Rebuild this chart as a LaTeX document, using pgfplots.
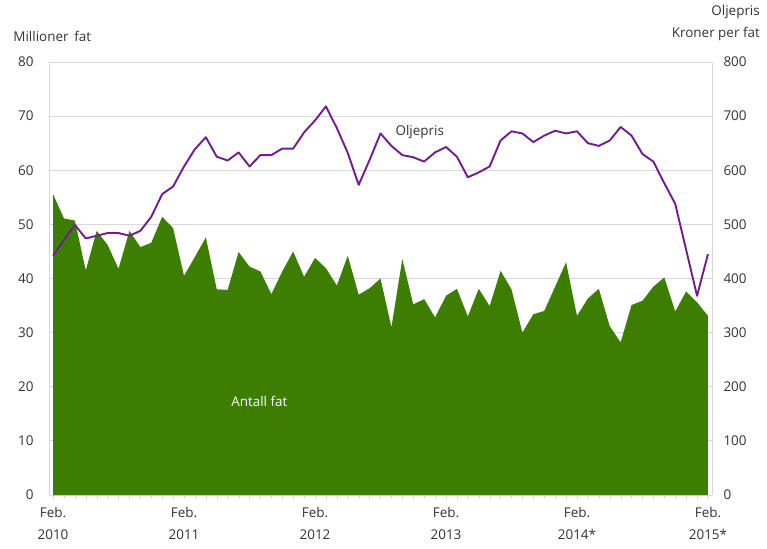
\documentclass[border=0pt]{standalone}
\usepackage{pgfplots}
\pgfplotsset{compat=1.18}
\usepackage{fontspec}
\setmainfont{Open Sans}
\definecolor{areagreen}{RGB}{60,126,2}
\definecolor{oilpurple}{RGB}{112,30,140}
\definecolor{gridgray}{RGB}{217,217,217}
\definecolor{txtgray}{RGB}{51,51,51}
\pgfplotstableread{
x v
0 55.6
1 51.1
2 50.7
3 41.5
4 48.8
5 46.2
6 41.8
7 48.8
8 45.8
9 46.6
10 51.4
11 49.3
12 40.5
13 44.0
14 47.6
15 38.0
16 37.9
17 44.9
18 42.2
19 41.3
20 37.1
21 41.3
22 45.0
23 40.3
24 43.8
25 41.9
26 38.7
27 44.2
28 37.0
29 38.2
30 40.0
31 31.0
32 43.6
33 35.2
34 36.2
35 32.8
36 36.8
37 38.1
38 33.0
39 38.1
40 34.9
41 41.4
42 38.0
43 30.0
44 33.4
45 34.0
46 38.5
47 43.0
48 33.1
49 36.3
50 38.1
51 31.2
52 28.2
53 35.1
54 35.9
55 38.5
56 40.2
57 33.9
58 37.6
59 35.6
60 33.1
}\fatdata
\pgfplotstableread{
x p
0 442
1 471
2 499
3 474
4 479
5 484
6 484
7 479
8 488
9 514
10 556
11 570
12 607
13 639
14 661
15 625
16 618
17 633
18 607
19 628
20 628
21 640
22 640
23 670
24 692
25 718
26 678
27 632
28 573
29 619
30 668
31 645
32 628
33 624
34 616
35 633
36 643
37 625
38 587
39 596
40 607
41 655
42 672
43 668
44 652
45 664
46 673
47 668
48 672
49 650
50 645
51 655
52 680
53 664
54 630
55 616
56 576
57 538
58 453
59 368
60 445
}\prisdata
\begin{document}
\begin{tikzpicture}[font=\fontsize{13.5}{22}\selectfont, text=txtgray]
\begin{axis}[
  scale only axis, width=663bp, height=433bp,
  xmin=-0.37, xmax=60.37, ymin=0, ymax=80,
  axis line style={gridgray},
  xtick={0,12,24,36,48,60},
  xticklabels={Feb.\\2010,Feb.\\2011,Feb.\\2012,Feb.\\2013,Feb.\\2014*,Feb.\\2015*},
  xticklabel style={align=center, text=txtgray, yshift=-5bp},
  minor xtick={0,...,60},
  tick align=outside,
  major tick length=4bp, minor tick length=4bp,
  x tick style={gridgray},
  ytick={0,10,...,80},
  y tick style={draw=none},
  yticklabel style={text=txtgray, xshift=-8bp},
  ymajorgrids, grid style={gridgray, line width=0.8pt},
  axis y line*=left,
  axis x line*=bottom,
  /pgf/number format/assume math mode=true,
  clip=false,
]
\addplot[fill=areagreen, draw=none] table[x=x,y=v]{\fatdata} \closedcycle;
\node[text=white] at (axis cs:18.9,17.2) {Antall fat};
\node[anchor=west, inner sep=0pt] at (axis cs:-3.65,84.8) {Millioner\ \,fat};
\draw[gridgray, line width=0.8pt] (axis cs:-0.37,80) -- (axis cs:60.37,80) -- (axis cs:60.37,0);
\end{axis}
\begin{axis}[
  scale only axis, width=663bp, height=433bp,
  xmin=-0.37, xmax=60.37, ymin=0, ymax=800,
  axis x line=none,
  axis y line*=right,
  axis line style={gridgray},
  ytick={0,100,...,800},
  y tick style={draw=none},
  yticklabel style={text=txtgray, xshift=8bp},
  /pgf/number format/assume math mode=true,
  clip=false,
]
\addplot[oilpurple, line width=1.9bp, line join=round] table[x=x,y=p]{\prisdata};
\node[text=txtgray] at (axis cs:33.6,671) {Oljepris};
\end{axis}
\node[anchor=east, inner sep=0pt] at (711bp,483bp) {Oljepris};
\node[anchor=east, inner sep=0pt] at (711bp,461bp) {Kroner per fat};
\pgfresetboundingbox
\path[use as bounding box] (-49bp,-54bp) rectangle (718bp,495bp);
\end{tikzpicture}
\end{document}
